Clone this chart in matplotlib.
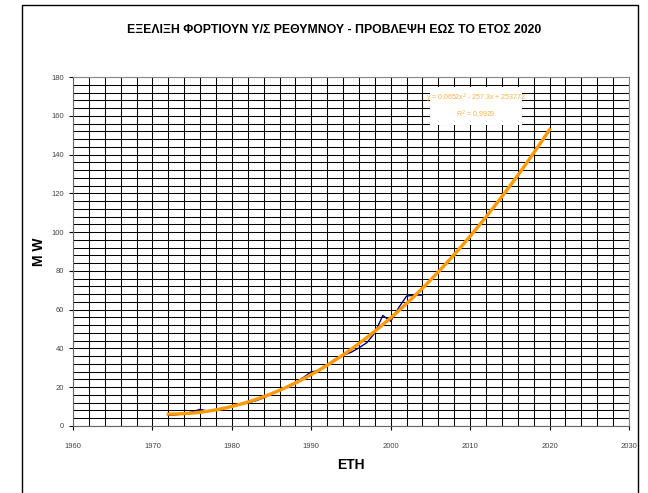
import matplotlib.pyplot as plt
import matplotlib.patches as mpatches
import numpy as np

# actual load (MW) per year
years = [1972, 1973, 1974, 1975, 1976, 1977, 1978, 1979, 1980, 1981, 1982,
         1983, 1984, 1985, 1986, 1987, 1988, 1989, 1990, 1991, 1992, 1993,
         1994, 1995, 1996, 1997, 1998, 1999, 2000, 2001, 2002, 2003, 2004]
load_mw = [5.5, 5.8, 6.3, 7.3, 8.6, 7.6, 8.3, 9.2, 10.0, 11.0, 12.0,
           13.0, 14.5, 16.5, 18.5, 20.5, 22.5, 25.0, 28.0, 28.5, 31.5, 34.5,
           36.5, 38.0, 40.3, 43.0, 48.0, 57.0, 54.0, 61.0, 67.0, 67.5, 67.5]

trend_start, trend_end = 1972, 2020
title = "ΕΞΕΛΙΞΗ ΦΟΡΤΙΟΥΝ Υ/Σ ΡΕΘΥΜΝΟΥ - ΠΡΟΒΛΕΨΗ ΕΩΣ ΤΟ ΕΤΟΣ 2020"
eq_text = "y = 0,0652x$^2$ - 257,3x + 253772"
r2_text = "R$^2$ = 0,9929"

plt.rcParams['font.family'] = ['Liberation Sans', 'DejaVu Sans']

fig = plt.figure(figsize=(6.48, 4.93), dpi=100)
fig.patches.append(mpatches.Rectangle((22 / 648, -0.1), (638 - 22) / 648, 1.1 - 5 / 493,
                                      transform=fig.transFigure, fill=False,
                                      edgecolor='black', lw=1.0))

ax = fig.add_axes([73 / 648, 1 - 426 / 493, (629 - 73) / 648, (426 - 77) / 493])

# polynomial trendline (order 2) like the spreadsheet one
coef = np.polyfit(np.array(years) - 2000, load_mw, 2)
tx = np.arange(trend_start, trend_end + 1)
ty = np.polyval(coef, tx - 2000)

ax.plot(years, load_mw, color='#000080', lw=1.0, zorder=3)
ax.plot(tx, ty, color='#FF9900', lw=2.4, zorder=4)

ax.set_xlim(1960, 2030)
ax.set_ylim(0, 180)
ax.set_xticks(range(1960, 2031, 10))
ax.set_yticks(range(0, 181, 20))
ax.set_xticks(range(1960, 2031, 2), minor=True)
ax.set_yticks(range(0, 181, 4), minor=True)
ax.grid(which='both', color='black', lw=0.75)
ax.tick_params(which='minor', length=0)
ax.tick_params(which='major', labelsize=5.5, labelcolor='#444444', length=3,
               direction='out')
ax.tick_params(axis='x', pad=9)
for s in ['top', 'right']:
    ax.spines[s].set_color('#888888')
for s in ['left', 'bottom']:
    ax.spines[s].set_color('#666666')

ax.set_xlabel("ETH", fontsize=10, fontweight='bold', labelpad=6)
ax.set_ylabel("M W", fontsize=10, fontweight='bold', labelpad=4)

fig.text(334 / 648, 1 - 30 / 493, title, ha='center', va='center',
         fontsize=8.8, fontweight='bold')

ax.add_patch(mpatches.Rectangle((2004.9, 155.5), 11.6, 19.2, facecolor='white',
                                edgecolor='none', zorder=5))
ax.text(2010.7, 169, eq_text, ha='center', va='center', fontsize=5,
        color='#FFB040', zorder=6)
ax.text(2010.7, 160.5, r2_text, ha='center', va='center', fontsize=5,
        color='#FFB040', zorder=6)

fig.savefig('out.png', dpi=100)
